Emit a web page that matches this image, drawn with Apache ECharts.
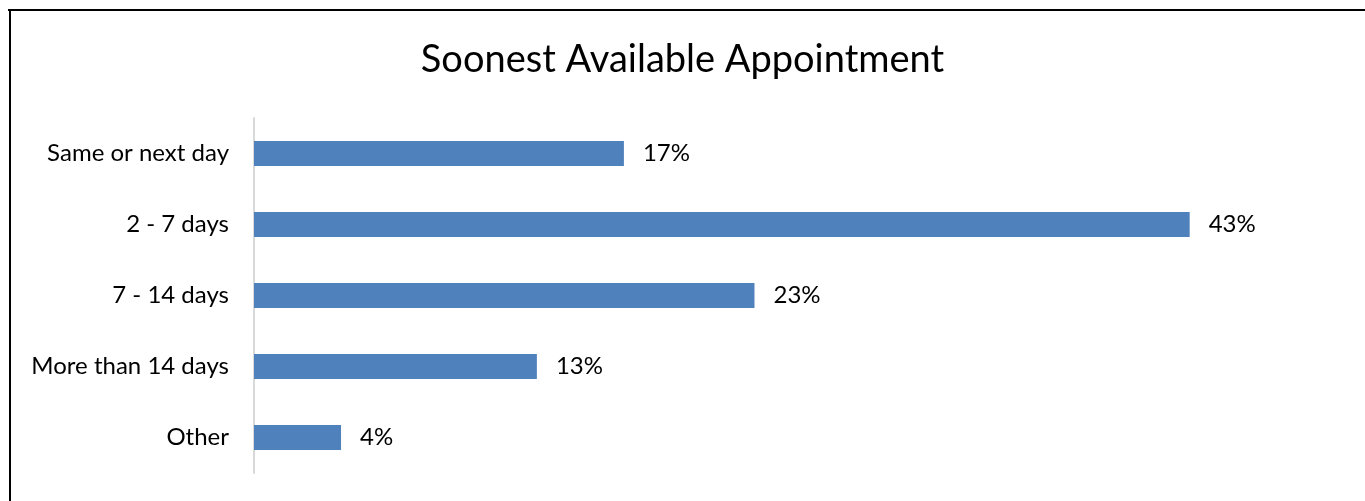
<!DOCTYPE html>
<html>
<head>
<meta charset="utf-8">
<script src="https://cdn.jsdelivr.net/npm/echarts@6/dist/echarts.min.js"></script>
<style>
  html, body { margin: 0; padding: 0; background: #fff; overflow: hidden; }
  #chart { width: 1365px; height: 501px; }
</style>
</head>
<body>
<div id="chart"></div>
<script>
// 数据
const categories = ['Same or next day', '2 - 7 days', '7 - 14 days', 'More than 14 days', 'Other']
const percents = [17, 43, 23, 13, 4]

const myChart = echarts.init(document.getElementById('chart'))
const option = {
  animation: false,
  backgroundColor: '#fff',
  textStyle: { fontFamily: 'Lato' },
  title: {
    text: 'Soonest Available Appointment',
    left: 'center',
    top: 36,
    textStyle: { fontSize: 38, fontWeight: 'normal', color: '#000', fontFamily: 'Lato' }
  },
  // 外框 (只看得到上边和左边)
  graphic: [
    { type: 'line', shape: { x1: 8, y1: 10, x2: 1366, y2: 10 }, style: { stroke: '#000', lineWidth: 2 } },
    { type: 'line', shape: { x1: 10, y1: 9, x2: 10, y2: 502 }, style: { stroke: '#000', lineWidth: 2 } }
  ],
  grid: { left: 254, top: 118, width: 1088, height: 355 },
  xAxis: {
    type: 'value',
    min: 0,
    max: 50,
    show: false
  },
  yAxis: {
    type: 'category',
    data: categories,
    inverse: true,
    axisLine: { lineStyle: { color: '#d9d9d9', width: 2 } },
    axisTick: { show: false },
    axisLabel: { color: '#000', fontSize: 24, margin: 25 }
  },
  series: [{
    type: 'bar',
    data: percents,
    barWidth: 25,
    itemStyle: { color: '#4f81bd' },
    label: {
      show: true,
      position: 'right',
      distance: 19,
      color: '#000',
      fontSize: 24,
      formatter: p => p.value + '%'
    }
  }]
}
myChart.setOption(option)
</script>
</body>
</html>
